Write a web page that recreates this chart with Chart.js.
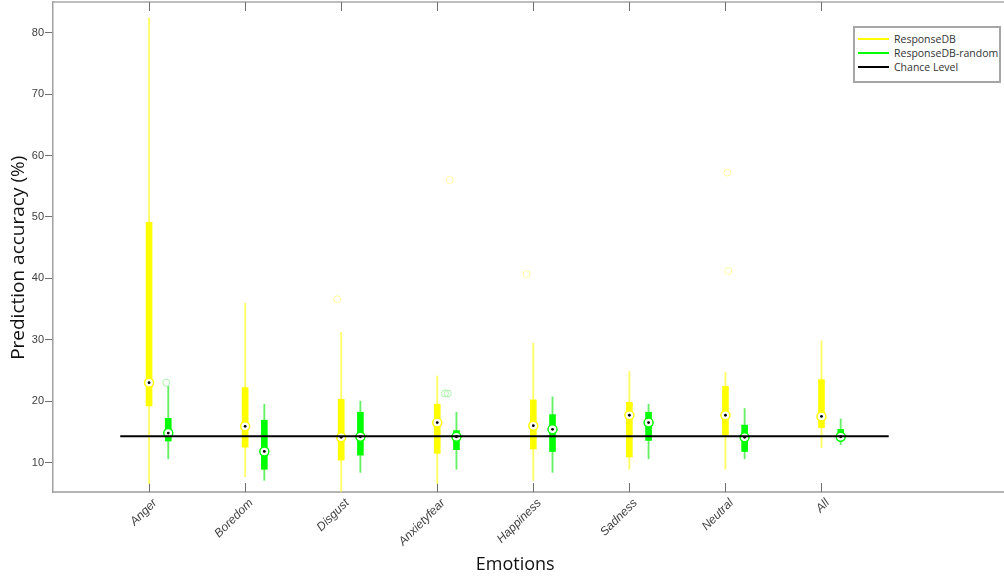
<!DOCTYPE html>
<html>
<head>
<meta charset="utf-8">
<title>Prediction accuracy by emotion</title>
<script src="https://cdn.jsdelivr.net/npm/chart.js@4.4.1/dist/chart.umd.min.js"></script>
<style>
  html, body { margin: 0; padding: 0; background: #fff; }
  #wrap { position: relative; width: 1004px; height: 578px; }
  #chart { display: block; }
  #legend {
    position: absolute; left: 853px; top: 26px; width: 144px; height: 49px;
    border: 2px solid #a6a6a6; background: #fff; padding-top: 4px; box-sizing: content-box;
    font: 10.5px 'Open Sans', sans-serif; color: #333; white-space: nowrap;
  }
  #legend .row { height: 14px; line-height: 14px; display: flex; align-items: center; }
  #legend .swatch { flex: none; width: 31px; height: 2px; margin: 0 5px 0 3px; }
</style>
</head>
<body>
<div id="wrap">
  <canvas id="chart" width="1004" height="578"></canvas>
  <div id="legend">
    <div class="row"><span class="swatch" style="background:#ffff00"></span><span>ResponseDB</span></div>
    <div class="row"><span class="swatch" style="background:#00ff00"></span><span>ResponseDB-random</span></div>
    <div class="row"><span class="swatch" style="background:#000"></span><span>Chance Level</span></div>
  </div>
</div>
<script>
const categories = ['Anger', 'Boredom', 'Disgust', 'Anxietyfear', 'Happiness', 'Sadness', 'Neutral', 'All'];

// ResponseDB (yellow) box stats
const dbLow = [6.6, 7.7, 5.3, 6.6, 7.1, 8.9, 8.9, 12.4];
const dbQ1 = [19.2, 12.5, 10.4, 11.5, 12.2, 10.9, 14.5, 15.7];
const dbMed = [23.0, 15.9, 14.1, 16.5, 16.0, 17.7, 17.7, 17.5];
const dbQ3 = [49.1, 22.2, 20.3, 19.5, 20.2, 19.8, 22.4, 23.5];
const dbHigh = [82.4, 35.9, 31.2, 24.1, 29.4, 24.8, 24.7, 29.8];

// ResponseDB-random (green) box stats
const rndLow = [10.6, 7.1, 8.4, 8.9, 8.4, 10.6, 10.6, 12.9];
const rndQ1 = [13.5, 8.9, 11.2, 12.1, 11.8, 13.6, 11.8, 13.9];
const rndMed = [14.8, 11.8, 14.2, 14.2, 15.4, 16.5, 14.1, 14.2];
const rndQ3 = [17.2, 16.9, 18.2, 15.2, 17.8, 18.2, 16.1, 15.4];
const rndHigh = [22.4, 19.5, 20.0, 18.2, 20.7, 19.5, 18.8, 17.1];

// outliers: category number, jitter, value
const dbOutCat = [3, 4, 5, 7, 7];
const dbOutJitter = [-0.04, 0.13, -0.07, 0.03, 0.02];
const dbOutVal = [36.6, 56.0, 40.7, 41.2, 57.2];
const rndOutCat = [1, 4, 4];
const rndOutJitter = [-0.02, -0.12, -0.09];
const rndOutVal = [23.0, 21.25, 21.25];

const chanceLevel = 14.29;
const chanceFrom = 0.7;
const chanceTo = 8.7;

const xTitle = 'Emotions';
const yTitle = 'Prediction accuracy (%)';

const GREEN_SHIFT = 0.2;
const YELLOW = '#ffff00';
const GREEN = '#00ff00';

function ranges(lo, hi, shift) {
  return categories.map((c, i) => ({ x: i + 1 + shift, y: [lo[i], hi[i]] }));
}
function points(vals, shift) {
  return categories.map((c, i) => ({ x: i + 1 + shift, y: vals[i] }));
}
function outliers(cats, jit, vals, shift) {
  return cats.map((c, i) => ({ x: c + shift + jit[i], y: vals[i] }));
}

// top border, inward category ticks, axis titles (placed like the matlab figure)
const frame = {
  id: 'frame',
  beforeDatasetsDraw(chart) {
    const { ctx, chartArea } = chart;
    const xs = chart.scales.x;
    ctx.save();
    ctx.strokeStyle = '#a8a8a8';
    ctx.lineWidth = 1.5;
    ctx.beginPath();
    ctx.moveTo(chartArea.left, chartArea.top);
    ctx.lineTo(chartArea.right, chartArea.top);
    ctx.stroke();
    ctx.strokeStyle = '#6e6e6e';
    ctx.lineWidth = 1;
    categories.forEach((c, i) => {
      const px = Math.round(xs.getPixelForValue(i + 1)) + 0.5;
      ctx.beginPath();
      ctx.moveTo(px, chartArea.bottom);
      ctx.lineTo(px, chartArea.bottom - 9);
      ctx.moveTo(px, chartArea.top);
      ctx.lineTo(px, chartArea.top + 9);
      ctx.stroke();
    });
    ctx.restore();
  },
  afterDraw(chart) {
    const { ctx, chartArea } = chart;
    const w = chartArea.right - chartArea.left;
    const h = chartArea.bottom - chartArea.top;
    ctx.save();
    ctx.fillStyle = '#111';
    ctx.textAlign = 'center';
    ctx.textBaseline = 'middle';
    ctx.font = "18px 'Open Sans', sans-serif";
    ctx.fillText(xTitle, chartArea.left + w * 0.486, chart.height - 13);
    ctx.translate(19, chartArea.top + h * 0.522);
    ctx.rotate(-Math.PI / 2);
    ctx.font = "19px 'Open Sans', sans-serif";
    ctx.fillText(yTitle, 0, 0);
    ctx.restore();
  },
};

new Chart(document.getElementById('chart'), {
  type: 'bar',
  data: {
    datasets: [
      { type: 'line', data: [{ x: chanceFrom, y: chanceLevel }, { x: chanceTo, y: chanceLevel }],
        borderColor: '#000', borderWidth: 2, pointRadius: 0, order: 0 },
      { type: 'scatter', data: points(dbMed, 0), pointRadius: 1.4, pointBackgroundColor: '#000',
        pointBorderWidth: 0, order: 1 },
      { type: 'scatter', data: points(rndMed, GREEN_SHIFT), pointRadius: 1.4, pointBackgroundColor: '#000',
        pointBorderWidth: 0, order: 1 },
      { type: 'scatter', data: points(dbMed, 0), pointRadius: 4.5, pointBackgroundColor: '#fff',
        pointBorderColor: YELLOW, pointBorderWidth: 1.5, order: 2 },
      { type: 'scatter', data: points(rndMed, GREEN_SHIFT), pointRadius: 4.5, pointBackgroundColor: '#fff',
        pointBorderColor: GREEN, pointBorderWidth: 1.5, order: 2 },
      { type: 'scatter', data: outliers(dbOutCat, dbOutJitter, dbOutVal, 0), pointRadius: 3.5,
        pointBackgroundColor: 'rgba(0,0,0,0)', pointBorderColor: '#ffffa0', pointBorderWidth: 1, order: 3 },
      { type: 'scatter', data: outliers(rndOutCat, rndOutJitter, rndOutVal, GREEN_SHIFT), pointRadius: 3.5,
        pointBackgroundColor: 'rgba(0,0,0,0)', pointBorderColor: '#a8f5a8', pointBorderWidth: 1, order: 3 },
      { data: ranges(dbQ1, dbQ3, 0), backgroundColor: YELLOW, barThickness: 6, grouped: false, order: 4 },
      { data: ranges(rndQ1, rndQ3, GREEN_SHIFT), backgroundColor: GREEN, barThickness: 6, grouped: false, order: 4 },
      { data: ranges(dbLow, dbHigh, 0), backgroundColor: '#ffff66', barThickness: 1.2, grouped: false, order: 5 },
      { data: ranges(rndLow, rndHigh, GREEN_SHIFT), backgroundColor: '#66f066', barThickness: 1.2, grouped: false, order: 5 },
    ],
  },
  options: {
    responsive: false,
    animation: false,
    devicePixelRatio: 1,
    layout: { autoPadding: false, padding: { top: 2, right: 0, left: 0, bottom: 0 } },
    plugins: { legend: { display: false }, tooltip: { enabled: false } },
    scales: {
      x: {
        type: 'linear',
        min: 0,
        max: 9.9,
        offset: false,
        afterBuildTicks: (s) => { s.ticks = s.ticks.filter((t) => t.value >= 1 && t.value <= 8); },
        afterFit: (s) => { s.height = 86; s.paddingLeft = 0; s.paddingRight = 0; },
        grid: { display: false, drawTicks: false },
        border: { display: true, color: '#b4b4b4', width: 2 },
        ticks: {
          stepSize: 1,
          autoSkip: false,
          minRotation: 45,
          maxRotation: 45,
          padding: 4,
          labelOffset: 6,
          color: '#404040',
          font: { family: "'Liberation Sans', Arial, sans-serif", size: 12, style: 'italic' },
          callback: (v) => categories[v - 1] || '',
        },
      },
      y: {
        min: 5.2,
        max: 85,
        beginAtZero: false,
        afterBuildTicks: (s) => { s.ticks = s.ticks.filter((t) => t.value % 10 === 0); },
        afterFit: (s) => { s.width = 53; s.paddingTop = 0; s.paddingBottom = 0; },
        grid: { display: true, drawOnChartArea: false, drawTicks: true, tickLength: 8, color: '#707070' },
        border: { display: true, color: '#a0a0a0', width: 1.5 },
        ticks: {
          stepSize: 10,
          padding: 1,
          color: '#404040',
          font: { family: "'Liberation Sans', Arial, sans-serif", size: 11 },
        },
      },
    },
  },
  plugins: [frame],
});
</script>
</body>
</html>
